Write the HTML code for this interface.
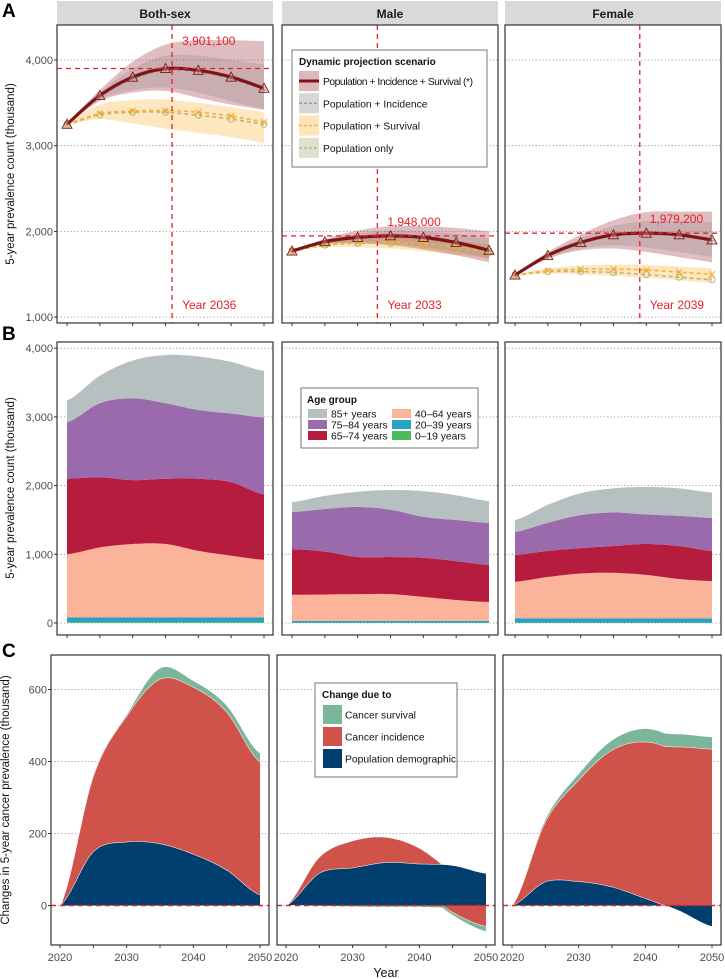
<!DOCTYPE html>
<html><head><meta charset="utf-8">
<style>
html,body{margin:0;padding:0;background:#fff;}
svg{display:block;font-family:"Liberation Sans",Arial,sans-serif;}
</style></head>
<body>
<svg id="chart" width="725" height="979" viewBox="0 0 725 979" xmlns="http://www.w3.org/2000/svg"></svg>
<script>
// ---------- DATA ----------
const years = [2020, 2025, 2030, 2035, 2040, 2045, 2050];
const sexes = ["Both-sex", "Male", "Female"];
// Panel A (thousand)
const pisBoth = [3250, 3585, 3800, 3900, 3880, 3800, 3670];
const pisMale = [1770, 1880, 1930, 1948, 1930, 1870, 1780];
const pisFemale = [1490, 1720, 1870, 1960, 1979, 1960, 1900];
const pisHiBoth = [3260, 3650, 3980, 4180, 4230, 4230, 4220];
const pisLoBoth = [3240, 3520, 3620, 3640, 3560, 3480, 3420];
const pisHiMale = [1772, 1910, 2010, 2060, 2060, 2040, 2000];
const pisLoMale = [1768, 1850, 1860, 1840, 1790, 1720, 1640];
const pisHiFemale = [1492, 1760, 1960, 2130, 2225, 2230, 2230];
const pisLoFemale = [1488, 1680, 1780, 1800, 1760, 1700, 1640];
const piBoth = [3250, 3570, 3780, 3880, 3860, 3780, 3650];
const piMale = [1770, 1870, 1920, 1935, 1915, 1860, 1770];
const piFemale = [1490, 1710, 1860, 1950, 1965, 1950, 1890];
const piHiBoth = [3255, 3620, 3900, 4050, 4050, 4000, 3950];
const piLoBoth = [3245, 3540, 3650, 3680, 3620, 3520, 3420];
const piHiMale = [1771, 1895, 1975, 2010, 2000, 1970, 1920];
const piLoMale = [1769, 1855, 1875, 1860, 1820, 1760, 1690];
const piHiFemale = [1491, 1740, 1920, 2060, 2120, 2120, 2110];
const piLoFemale = [1489, 1690, 1800, 1840, 1810, 1760, 1700];
const psBoth = [3250, 3375, 3405, 3410, 3390, 3345, 3275];
const psMale = [1770, 1845, 1870, 1875, 1860, 1820, 1770];
const psFemale = [1490, 1540, 1560, 1560, 1550, 1525, 1500];
const psHiBoth = [3260, 3480, 3530, 3540, 3500, 3450, 3390];
const psLoBoth = [3240, 3310, 3260, 3200, 3150, 3100, 3030];
const psHiMale = [1772, 1870, 1910, 1925, 1920, 1890, 1850];
const psLoMale = [1768, 1815, 1815, 1800, 1770, 1730, 1680];
const psHiFemale = [1492, 1570, 1600, 1610, 1610, 1590, 1570];
const psLoFemale = [1488, 1510, 1500, 1480, 1460, 1430, 1400];
const popBoth = [3245, 3360, 3390, 3390, 3355, 3310, 3250];
const popMale = [1768, 1840, 1860, 1860, 1840, 1800, 1750];
const popFemale = [1488, 1530, 1530, 1520, 1495, 1465, 1435];
const peakYears = [2036, 2033, 2039];
const peakValues = [3901.1, 1948.0, 1979.2];
const peakLabels = ["3,901,100", "1,948,000", "1,979,200"];
const yTicksA = [1000, 2000, 3000, 4000];
const yTickLabelsA = ["1,000", "2,000", "3,000", "4,000"];
// Panel B (thousand, per age group)
const ageGroups = ["0–19 years", "20–39 years", "40–64 years", "65–74 years", "75–84 years", "85+ years"];
const ageBoth0 = [10, 10, 10, 10, 10, 10, 10];
const ageBoth20 = [70, 70, 70, 70, 70, 70, 70];
const ageBoth40 = [920, 1020, 1070, 1070, 970, 900, 840];
const ageBoth65 = [1100, 1020, 930, 950, 1050, 1070, 950];
const ageBoth75 = [820, 1080, 1190, 1100, 1000, 1000, 1120];
const ageBoth85 = [320, 400, 550, 700, 780, 750, 680];
const ageMale0 = [5, 5, 5, 5, 5, 5, 5];
const ageMale20 = [25, 25, 25, 25, 25, 25, 25];
const ageMale40 = [380, 385, 390, 390, 350, 305, 275];
const ageMale65 = [665, 625, 540, 540, 570, 565, 540];
const ageMale75 = [540, 620, 730, 690, 595, 600, 610];
const ageMale85 = [145, 190, 220, 285, 375, 360, 320];
const ageFemale0 = [5, 5, 5, 5, 5, 5, 5];
const ageFemale20 = [65, 65, 65, 65, 65, 65, 65];
const ageFemale40 = [530, 600, 650, 660, 630, 570, 540];
const ageFemale65 = [390, 380, 370, 390, 450, 480, 440];
const ageFemale75 = [335, 410, 480, 490, 430, 440, 480];
const ageFemale85 = [175, 260, 320, 350, 400, 400, 370];
const yTicksB = [0, 1000, 2000, 3000, 4000];
const yTickLabelsB = ["0", "1,000", "2,000", "3,000", "4,000"];
// Panel C (thousand)
const demoBoth = [0, 150, 177, 172, 143, 99, 30];
const incBoth = [0, 210, 350, 457, 464, 439, 370];
const survBoth = [0, 5, 5, 31, 18, 19, 24];
const demoMale = [0, 90, 105, 120, 116, 112, 90];
const incMale = [0, 45, 75, 70, 44, -20, -59];
const survMale = [0, -2, -4, -5, -5, -8, -14];
const demoFemale = [0, 66, 67, 52, 20, -15, -59];
const incFemale = [0, 167, 282, 380, 435, 441, 435];
const survFemale = [0, 8, 18, 28, 37, 36, 34];
const yTicksC = [0, 200, 400, 600];
const xTickLabelsC = [2020, 2030, 2040, 2050];

// ---------- HELPERS ----------
const svg = document.getElementById('chart');
const NS = 'http://www.w3.org/2000/svg';
function mk(tag, attrs, parent) {
  const e = document.createElementNS(NS, tag);
  for (const k in attrs) e.setAttribute(k, attrs[k]);
  (parent || svg).appendChild(e);
  return e;
}
function txt(s, attrs, parent) { const e = mk('text', attrs, parent); e.textContent = s; return e; }
function crPath(pts, move) {
  let d = (move === false ? 'L' : 'M') + pts[0][0].toFixed(1) + ',' + pts[0][1].toFixed(1);
  for (let i = 0; i < pts.length - 1; i++) {
    const p0 = pts[i - 1] || pts[i], p1 = pts[i], p2 = pts[i + 1], p3 = pts[i + 2] || p2;
    const c1 = [p1[0] + (p2[0] - p0[0]) / 6, p1[1] + (p2[1] - p0[1]) / 6];
    const c2 = [p2[0] - (p3[0] - p1[0]) / 6, p2[1] - (p3[1] - p1[1]) / 6];
    d += 'C' + c1[0].toFixed(1) + ',' + c1[1].toFixed(1) + ' ' + c2[0].toFixed(1) + ',' + c2[1].toFixed(1) + ' ' + p2[0].toFixed(1) + ',' + p2[1].toFixed(1);
  }
  return d;
}
function interp(arr, t) {
  const i = Math.min(Math.floor(t), arr.length - 2), f = t - i;
  const p0 = arr[i - 1] !== undefined ? arr[i - 1] : arr[i], p1 = arr[i], p2 = arr[i + 1], p3 = arr[i + 2] !== undefined ? arr[i + 2] : arr[i + 1];
  return 0.5 * ((2 * p1) + (-p0 + p2) * f + (2 * p0 - 5 * p1 + 4 * p2 - p3) * f * f + (-p0 + 3 * p1 - 3 * p2 + p3) * f * f * f);
}

const LAB = [57, 282, 505], WAB = 216;
const LC = [51, 277, 503], WC = 218;
const xA = (yr, p) => LAB[p] + 10 + (yr - 2020) * 197 / 30;
const xC = (yr, p) => LC[p] + 9 + (yr - 2020) * 200 / 30;
const yA = v => 60 + (4000 - v) * 0.0857;
const yB = v => 623 - v * 0.0687;
const yC = v => 905.5 - v * 0.36;

txt('A', {x: 2, y: 17, 'font-size': 19, 'font-weight': 'bold',  });
txt('B', {x: 2, y: 340, 'font-size': 19, 'font-weight': 'bold',  });
txt('C', {x: 2, y: 657, 'font-size': 19, 'font-weight': 'bold',  });
txt('5-year prevalence count (thousand)', {transform: 'translate(14,174) rotate(-90)', 'text-anchor': 'middle', 'font-size': 11.5, fill: '#111',  });
txt('5-year prevalence count (thousand)', {transform: 'translate(14,488) rotate(-90)', 'text-anchor': 'middle', 'font-size': 11.5, fill: '#111',  });
txt('Changes in 5-year cancer prevalence (thousand)', {transform: 'translate(9,800) rotate(-90)', 'text-anchor': 'middle', 'font-size': 11.5, fill: '#111',  });
txt('Year', {x: 386, y: 977, 'text-anchor': 'middle', 'font-size': 12.5, fill: '#111',  });

function frame(x, y0, w, y1, name, yticks, ylabels, yfn, xfn, p, showYLabels, xlabels) {
  const g = mk('g', {});
  
  
  yticks.forEach((v, i) => {
    const gl = mk('line', {x1: x, x2: x + w, y1: yfn(v), y2: yfn(v), stroke: '#888', 'stroke-width': 0.8, 'stroke-dasharray': '1.2,2.2'}, g);
    
    
    if (showYLabels) {
      mk('line', {x1: x - 3, x2: x, y1: yfn(v), y2: yfn(v), stroke: '#333'}, g);
      const t = txt(ylabels[i], {x: x - 4, y: yfn(v) + 4, 'text-anchor': 'end', 'font-size': 11, fill: '#4d4d4d'}, g);
      
      
    }
  });
  for (let yr = 2020; yr <= 2050; yr += 5) {
    mk('line', {x1: xfn(yr, p), x2: xfn(yr, p), y1: y1, y2: y1 + 3, stroke: '#333'}, g);
  }
  if (xlabels) xlabels.forEach(yr => {
    const t = txt(String(yr), {x: xfn(yr, p), y: y1 + 16, 'text-anchor': 'middle', 'font-size': 11, fill: '#4d4d4d'}, g);
    
    
  });
  return g;
}
function border(x, y0, w, y1) {
  mk('rect', {x: x, y: y0, width: w, height: y1 - y0, fill: 'none', stroke: '#333', 'stroke-width': 1.2});
}

// ---------- PANEL A ----------
const pis = [pisBoth, pisMale, pisFemale], pisHi = [pisHiBoth, pisHiMale, pisHiFemale], pisLo = [pisLoBoth, pisLoMale, pisLoFemale];
const pi = [piBoth, piMale, piFemale], piHi = [piHiBoth, piHiMale, piHiFemale], piLo = [piLoBoth, piLoMale, piLoFemale];
const ps = [psBoth, psMale, psFemale], psHi = [psHiBoth, psHiMale, psHiFemale], psLo = [psLoBoth, psLoMale, psLoFemale];
const pop = [popBoth, popMale, popFemale];
for (let p = 0; p < 3; p++) {
  const L = LAB[p];
  const strip = mk('rect', {x: L, y: 1, width: WAB, height: 24, fill: '#d9d9d9'});
  
  
  const st = txt(sexes[p], {x: L + WAB / 2, y: 18, 'text-anchor': 'middle', 'font-size': 12, 'font-weight': 'bold', fill: '#1a1a1a'});
  
  
  frame(L, 25, WAB, 323, 'panel-a-' + p, yTicksA, yTickLabelsA, yA, xA, p, p === 0);
  const clip = mk('g', {});
  
  
  function ribbon(hi, lo, fill, name) {
    const up = years.map((yr, i) => [xA(yr, p), yA(hi[i])]);
    const dn = years.map((yr, i) => [xA(yr, p), yA(lo[i])]).reverse();
    const r = mk('path', {d: crPath(up) + crPath(dn, false) + 'Z', fill: fill}, clip);
    
    
  }
  ribbon(psHi[p], psLo[p], 'rgba(253,196,100,0.42)', 'ribbon-pop-survival');
  ribbon(pisHi[p], pisLo[p], 'rgba(160,50,60,0.32)', 'ribbon-pop-inc-surv');
  ribbon(piHi[p], piLo[p], 'rgba(120,120,120,0.22)', 'ribbon-pop-incidence');
  function line(vals, color, w, dash, name, marker) {
    const pts = years.map((yr, i) => [xA(yr, p), yA(vals[i])]);
    const l = mk('path', {d: crPath(pts), fill: 'none', stroke: color, 'stroke-width': w, 'stroke-dasharray': dash || 'none'}, clip);
    
    
    pts.forEach(pt => {
      let m;
      if (marker === 'tri') m = mk('path', {d: `M${pt[0]},${pt[1] - 5}L${pt[0] + 5},${pt[1] + 4}L${pt[0] - 5},${pt[1] + 4}Z`, fill: 'rgba(230,180,170,0.35)', stroke: '#7a1a14', 'stroke-width': 0.9}, clip);
      else if (marker === 'plus') m = mk('path', {d: `M${pt[0] - 3},${pt[1]}H${pt[0] + 3}M${pt[0]},${pt[1] - 3}V${pt[1] + 3}`, stroke: '#888', 'stroke-width': 1}, clip);
      else if (marker === 'x') m = mk('path', {d: `M${pt[0] - 3},${pt[1] - 3}L${pt[0] + 3},${pt[1] + 3}M${pt[0] - 3},${pt[1] + 3}L${pt[0] + 3},${pt[1] - 3}`, stroke: '#f0a830', 'stroke-width': 1}, clip);
      else m = mk('circle', {cx: pt[0], cy: pt[1], r: 3, fill: 'none', stroke: '#b8b870', 'stroke-width': 1}, clip);
      
      
    });
  }
  line(pop[p], '#b5b878', 1.6, '4,3', 'line-pop-only', 'circle');
  line(ps[p], '#f5b041', 1.6, '4,3', 'line-pop-survival', 'x');
  line(pi[p], '#999', 1.4, '4,3', 'line-pop-incidence', 'plus');
  line(pis[p], '#7f1416', 3.2, null, 'line-pop-inc-surv', 'tri');
  const vx = xA(peakYears[p], p), hy = yA(peakValues[p]);
  const vl = mk('line', {x1: vx, x2: vx, y1: 25, y2: 323, stroke: '#e8202a', 'stroke-width': 1.3, 'stroke-dasharray': '5,4'});
  
  
  const hl = mk('line', {x1: L, x2: L + WAB, y1: hy, y2: hy, stroke: '#e8202a', 'stroke-width': 1.3, 'stroke-dasharray': '5,4'});
  
  
  const labY = p === 0 ? 45 : hy - 10;
  const pl = txt(peakLabels[p], {x: vx + 10, y: labY, 'font-size': 12, fill: '#e8202a'});
  
  
  const yl = txt('Year ' + peakYears[p], {x: vx + 10, y: 309, 'font-size': 12, fill: '#e8202a'});
  
  
  border(L, 25, WAB, 323);
}
(function () {
  const g = mk('g', {});
  
  
  mk('rect', {x: 292, y: 50, width: 195, height: 117, fill: '#fff', stroke: '#555', 'stroke-width': 0.8}, g);
  txt('Dynamic projection scenario', {x: 299, y: 65, 'font-size': 10, 'font-weight': 'bold', fill: '#111'}, g);
  const ents = [['Population + Incidence + Survival (*)', 'rgba(160,50,60,0.35)', '#7f1416', 3, null],
    ['Population + Incidence', 'rgba(120,120,120,0.3)', '#999', 1.4, '3,2'],
    ['Population + Survival', 'rgba(253,196,100,0.45)', '#f5b041', 1.4, '3,2'],
    ['Population only', 'rgba(160,170,110,0.35)', '#b5b878', 1.4, '3,2']];
  ents.forEach((e, i) => {
    const cy = 81 + i * 22.3;
    const sw = mk('rect', {x: 299, y: cy - 10, width: 20, height: 20, fill: e[1]}, g);
    
    
    mk('line', {x1: 299, x2: 319, y1: cy, y2: cy, stroke: e[2], 'stroke-width': e[3], 'stroke-dasharray': e[4] || 'none'}, g);
    const t = txt(e[0], {x: 323, y: cy + 4, 'font-size': 10.3, fill: '#111', textLength: i === 0 ? 150 : null}, g);
    if (i !== 0) t.removeAttribute('textLength');
    
    
  });
})();

// ---------- PANEL B ----------
const ageData = [[ageBoth0, ageBoth20, ageBoth40, ageBoth65, ageBoth75, ageBoth85],
  [ageMale0, ageMale20, ageMale40, ageMale65, ageMale75, ageMale85],
  [ageFemale0, ageFemale20, ageFemale40, ageFemale65, ageFemale75, ageFemale85]];
const ageColors = ['#4cbb5a', '#2aa3c0', '#fbb49a', '#b51c3e', '#9b6aac', '#b7c0c0'];
for (let p = 0; p < 3; p++) {
  const L = LAB[p];
  frame(L, 342, WAB, 635, 'panel-b-' + p, yTicksB, yTickLabelsB, yB, xA, p, p === 0);
  const NSAMP = 61;
  let base = new Array(NSAMP).fill(0);
  ageData[p].forEach((arr, k) => {
    const top = [], bot = [];
    for (let s = 0; s < NSAMP; s++) {
      const t = s / 10, yr = 2020 + t * 5;
      const v = interp(arr, t);
      bot.push([xA(yr, p), yB(base[s])]);
      base[s] += v;
      top.push([xA(yr, p), yB(base[s])]);
    }
    const d = 'M' + top.map(q => q[0].toFixed(1) + ',' + q[1].toFixed(1)).join('L') + 'L' + bot.reverse().map(q => q[0].toFixed(1) + ',' + q[1].toFixed(1)).join('L') + 'Z';
    const a = mk('path', {d: d, fill: ageColors[k]});
    
    
  });
  border(L, 342, WAB, 635);
}
(function () {
  const g = mk('g', {});
  
  
  mk('rect', {x: 301, y: 388, width: 177, height: 60, fill: '#fff', stroke: '#555', 'stroke-width': 0.8}, g);
  txt('Age group', {x: 307, y: 403, 'font-size': 10, 'font-weight': 'bold', fill: '#111'}, g);
  const order = [[5, 0, 0], [4, 0, 1], [3, 0, 2], [2, 1, 0], [1, 1, 1], [0, 1, 2]];
  order.forEach(o => {
    const x = 308 + o[1] * 84, y = 409 + o[2] * 11;
    mk('rect', {x: x, y: y, width: 19, height: 9, fill: ageColors[o[0]]}, g);
    const t = txt(ageGroups[o[0]], {x: x + 23, y: y + 8.5, 'font-size': 10.3, fill: '#111'}, g);
    
    
  });
})();

// ---------- PANEL C ----------
const chgData = [[demoBoth, incBoth, survBoth], [demoMale, incMale, survMale], [demoFemale, incFemale, survFemale]];
const chgColors = ['#003f6d', '#d0534b', '#7bb59a'];
const chgNames = ['area-population-demographic', 'area-cancer-incidence', 'area-cancer-survival'];
for (let p = 0; p < 3; p++) {
  const L = LC[p];
  frame(L, 655, WC, 945, 'panel-c-' + p, yTicksC, yTicksC.map(String), yC, xC, p, p === 0, xTickLabelsC);
  const NSAMP = 121;
  const pos = new Array(NSAMP).fill(0), neg = new Array(NSAMP).fill(0);
  chgData[p].forEach((arr, k) => {
    const top = [], bot = [], sgn = [];
    for (let s = 0; s < NSAMP; s++) {
      const t = s / 20, yr = 2020 + t * 5;
      const v = interp(arr, t);
      if (v >= 0) { bot.push([xC(yr, p), yC(pos[s])]); pos[s] += v; top.push([xC(yr, p), yC(pos[s])]); sgn.push(1); }
      else { bot.push([xC(yr, p), yC(neg[s])]); neg[s] += v; top.push([xC(yr, p), yC(neg[s])]); sgn.push(-1); }
    }
    const d = 'M' + top.map(q => q[0].toFixed(1) + ',' + q[1].toFixed(1)).join('L') + 'L' + bot.slice().reverse().map(q => q[0].toFixed(1) + ',' + q[1].toFixed(1)).join('L') + 'Z';
    const a = mk('path', {d: d, fill: chgColors[k]});
    
    
    let od = '';
    for (let s = 0; s < NSAMP; s++) {
      const cmd = (s === 0 || sgn[s] !== sgn[s - 1]) ? 'M' : 'L';
      od += cmd + top[s][0].toFixed(1) + ',' + top[s][1].toFixed(1);
    }
    const ol = mk('path', {d: od, fill: 'none', stroke: '#fff', 'stroke-width': 1});
    
    
  });
  const zl = mk('line', {x1: L, x2: L + WC, y1: yC(0), y2: yC(0), stroke: '#e8202a', 'stroke-width': 1.4, 'stroke-dasharray': '5,4'});
  
  
  border(L, 655, WC, 945);
}
(function () {
  const g = mk('g', {});
  
  
  mk('rect', {x: 315, y: 683, width: 142, height: 94, fill: '#fff', stroke: '#555', 'stroke-width': 0.8}, g);
  txt('Change due to', {x: 322, y: 698, 'font-size': 10, 'font-weight': 'bold', fill: '#111'}, g);
  const labs = ['Cancer survival', 'Cancer incidence', 'Population demographic'];
  [2, 1, 0].forEach((k, i) => {
    const y = 705 + i * 22;
    mk('rect', {x: 323, y: y, width: 19, height: 19, fill: chgColors[k]}, g);
    const t = txt(labs[i], {x: 345, y: y + 13.5, 'font-size': 10.3, fill: '#111'}, g);
    
    
  });
})();
</script>
</body></html>
